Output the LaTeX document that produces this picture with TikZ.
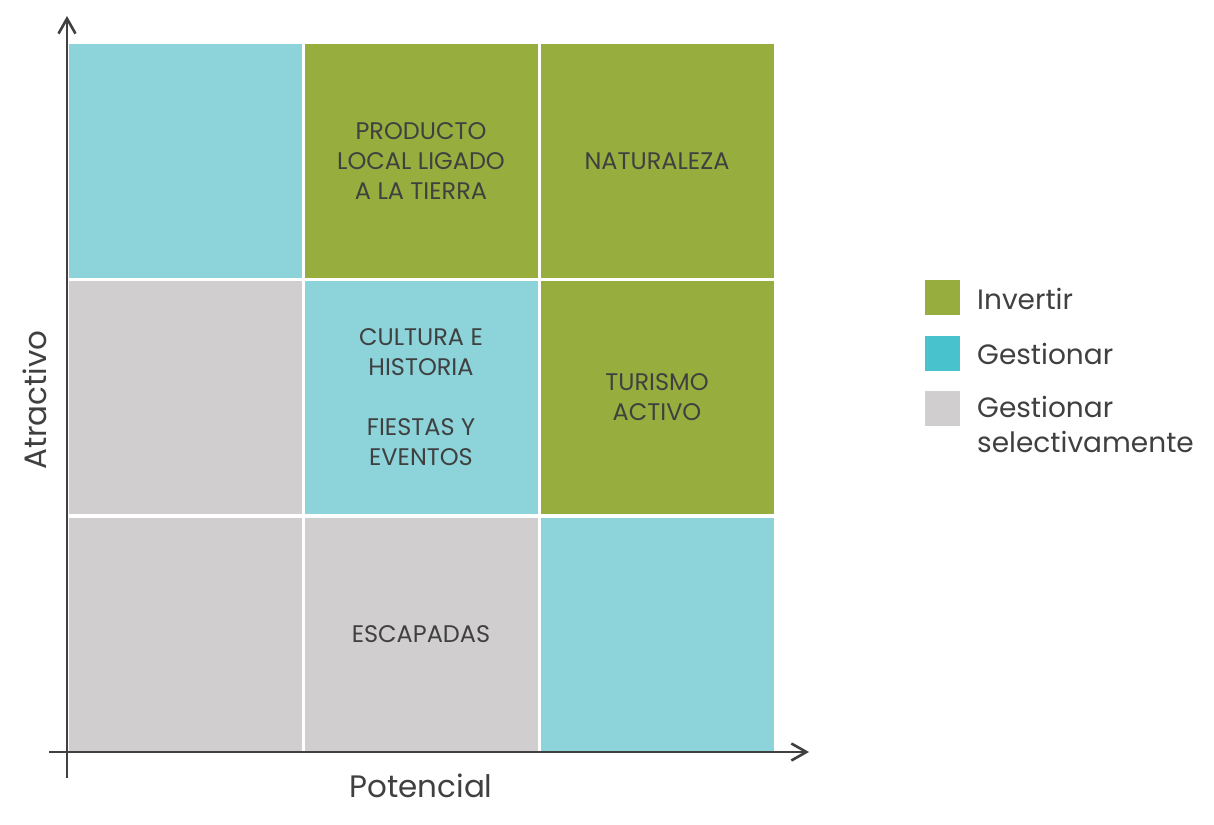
\documentclass[tikz,border=0pt]{standalone}
\usepackage{fontspec}
\setmainfont{Poppins}
\usetikzlibrary{arrows.meta,positioning}
\definecolor{invertir}{HTML}{97AD3D}
\definecolor{gestion}{HTML}{8CD3DA}
\definecolor{gestionleg}{HTML}{48C3CE}
\definecolor{selectivo}{HTML}{D0CECF}
\definecolor{texto}{HTML}{404040}
\begin{document}
\begin{tikzpicture}[x=1pt,y=-1pt]
\tikzstyle{every node}+=[inner sep=0pt,text=texto]
\tikzstyle{cell}=[draw=white,line width=3pt,minimum width=236pt,minimum height=236pt]
\tikzstyle{celltext}=[align=center,font=\fontsize{24}{30}\selectfont]
\tikzstyle{legbox}=[minimum width=35pt,minimum height=35pt]
\tikzstyle{legtext}=[anchor=base west,align=left,font=\fontsize{28}{35}\selectfont]
\tikzstyle{axis}=[draw=texto,line width=2.8pt,-{Straight Barb[length=15pt,width=17pt,line width=2.6pt]}]
\useasboundingbox (0,0) rectangle (1214,824);
\node [cell,fill=gestion] (c11) at (185,161) {};
\node [cell,fill=invertir] (c12) at (421,161) {};
\node [cell,fill=invertir] (c13) at (657,161) {};
\node [cell,fill=selectivo] (c21) at (185,397.5) {};
\node [cell,fill=gestion] (c22) at (421,397.5) {};
\node [cell,fill=invertir] (c23) at (657,397.5) {};
\node [cell,fill=selectivo] (c31) at (185,634) {};
\node [cell,fill=selectivo] (c32) at (421,634) {};
\node [cell,fill=gestion] (c33) at (657,634) {};
\node [celltext] at (c12) {PRODUCTO\\LOCAL LIGADO\\A LA TIERRA};
\node [celltext] at (c13) {NATURALEZA};
\node [celltext] at (c22) {CULTURA E\\HISTORIA\\[30pt]FIESTAS Y\\EVENTOS};
\node [celltext] at (c23) {TURISMO\\ACTIVO};
\node [celltext] at (c32) {ESCAPADAS};
\coordinate (yfrom) at (67,778);
\coordinate (yto) at (67,16);
\coordinate (xfrom) at (49,752);
\coordinate (xto) at (809,752);
\draw [axis] (yfrom) -- (yto);
\draw [axis] (xfrom) -- (xto);
\node [font=\fontsize{31}{35}\selectfont] (potencial) at (421,786) {Potencial};
\node [font=\fontsize{31}{35}\selectfont,rotate=90] (atractivo) at (35,400) {Atractivo};
\node [legbox,fill=invertir] (leg1) at (942.5,297.5) {};
\node [legbox,fill=gestionleg] (leg2) at (942.5,353.5) {};
\node [legbox,fill=selectivo] (leg3) at (942.5,408.5) {};
\node [legtext] (inv) at (977,309) {Invertir};
\node [legtext] (ges) at (977,364) {Gestionar};
\node [legtext] (sel) at (977,452) {Gestionar\\selectivamente};
\end{tikzpicture}
\end{document}
